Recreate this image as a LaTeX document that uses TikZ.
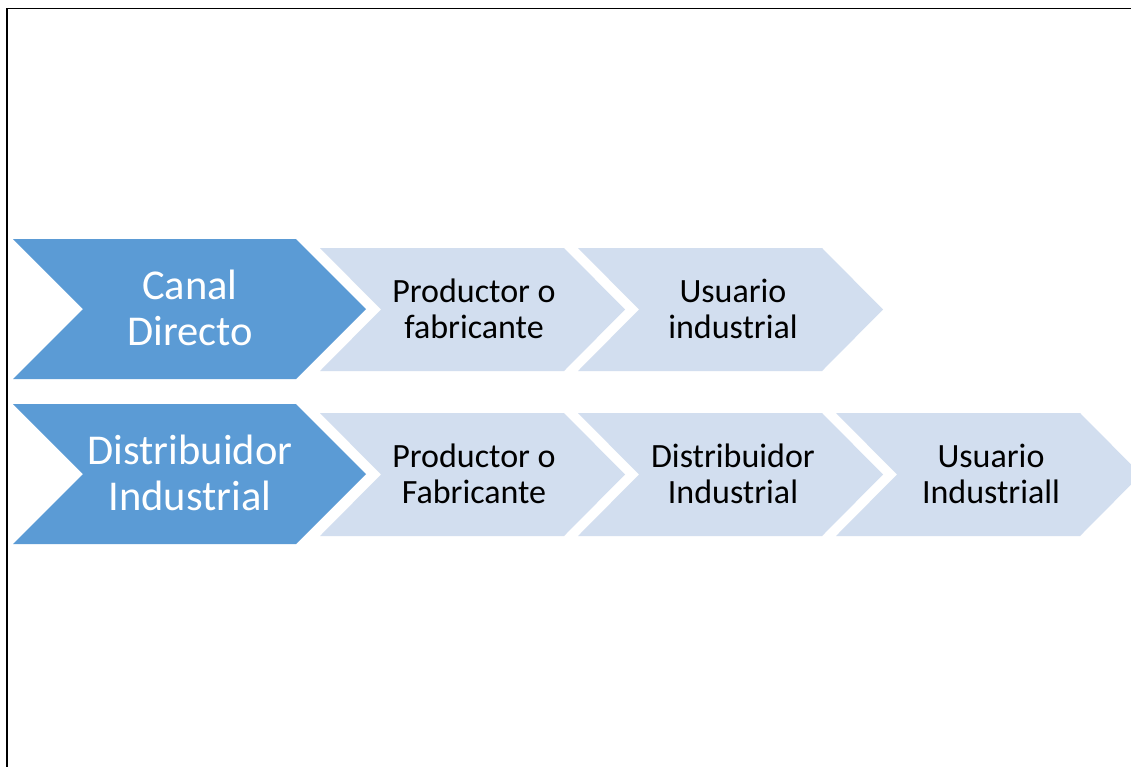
\documentclass[tikz,border=0pt]{standalone}
\usepackage{fontspec}
\setmainfont{Carlito}
\definecolor{dkblue}{HTML}{5B9BD5}
\definecolor{ltblue}{HTML}{D2DEEF}
\newcommand\chevshape[6]{% fill, x, y0, w, h, d
  \fill[#1] (#2,#3) -- ({#2+#4-#6},#3) -- ({#2+#4},{#3+#5/2}) -- ({#2+#4-#6},{#3+#5}) -- (#2,{#3+#5}) -- ({#2+#6},{#3+#5/2}) -- cycle;}
\begin{document}
\begin{tikzpicture}[x=1pt,y=-1pt,
  dktext/.style={text=white,align=center,font=\fontsize{42.5}{46}\selectfont,inner sep=0pt},
  lttext/.style={text=black,align=center,font=\fontsize{34}{36}\selectfont,inner sep=0pt}]
\useasboundingbox (0,0) rectangle (1131,766);
\begin{scope}
\clip (0,0) rectangle (1131,766);
\fill[white] (0,0) rectangle (1131,766);
\draw[line width=1.8pt] (7,8.5) rectangle (1160,800);
% row 1
\chevshape{dkblue}{13}{239}{353}{140}{70}
\chevshape{ltblue}{320}{248}{305}{123}{61}
\chevshape{ltblue}{578}{248}{305}{123}{61}
% row 2
\chevshape{dkblue}{13}{404}{353}{140}{70}
\chevshape{ltblue}{320}{413}{305}{123}{61}
\chevshape{ltblue}{578}{413}{305}{123}{61}
\chevshape{ltblue}{836}{413}{305}{123}{61}
\end{scope}
\node[dktext] (d1) at (190,308) {Canal\\Directo};
\node[lttext] (a1) at (474,309) {Productor o\\fabricante};
\node[lttext] (a2) at (733,309) {Usuario\\industrial};
\node[dktext] (d2) at (190,473) {Distribuidor\\Industrial};
\node[lttext] (b1) at (474,474) {Productor o\\Fabricante};
\node[lttext] (b2) at (733,474) {Distribuidor\\Industrial};
\node[lttext] (b3) at (991,474) {Usuario\\Industriall};
\end{tikzpicture}
\end{document}
